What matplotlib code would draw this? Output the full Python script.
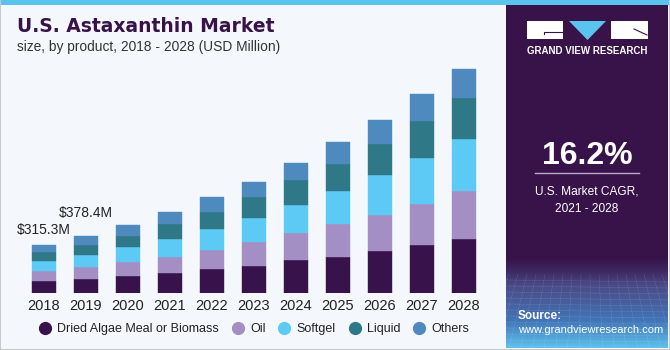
import numpy as np
import matplotlib
matplotlib.use("Agg")
from matplotlib import pyplot as plt
import matplotlib.patches as patches
from matplotlib.colors import LinearSegmentedColormap

plt.rcParams['font.family'] = ['Liberation Sans', 'DejaVu Sans']

# data (USD Million)
years = ["2018", "2019", "2020", "2021", "2022", "2023",
         "2024", "2025", "2026", "2027", "2028"]
dried_algae = [79, 92, 114, 130, 159, 176, 216, 240, 276, 317, 359]
oil = [64, 79, 92, 110, 128, 161, 180, 214, 242, 269, 315]
softgel = [68, 77, 95, 119, 139, 161, 183, 220, 260, 308, 344]
liquid = [60, 71, 75, 99, 110, 139, 165, 178, 209, 243, 273]
others = [44, 59, 73, 75, 97, 95, 116, 145, 157, 178, 190]
series_names = ["Dried Algae Meal or Biomass", "Oil", "Softgel", "Liquid", "Others"]
series_colors = ["#38124a", "#a48fc5", "#5ccaf5", "#2f7888", "#4f8abf"]
bar_labels = {0: "$315.3M", 1: "$378.4M"}
label_gap = {0: 8, 1: 16}  # px above the bar

W, H = 670, 350
DARK = "#38134a"

fig = plt.figure(figsize=(W / 100, H / 100), dpi=100)
fig.patch.set_facecolor("#c8c8c8")

# background layer in pixel coordinates
bg = fig.add_axes([0, 0, 1, 1])
bg.axis("off")
bg.add_patch(patches.Rectangle((1, 1), W - 2, H - 2, fc="#f4f8fc", ec="none"))
bg.add_patch(patches.Rectangle((1, 0), W - 2, 5, fc="#5bc4ee", ec="none"))
bg.add_patch(patches.Rectangle((506, 5), 162, H - 7, fc=DARK, ec="none"))

# gradient at the bottom of the right panel
grad = LinearSegmentedColormap.from_list(
    "g", [(0, DARK), (0.15, "#3d2a63"), (0.3, "#4a4a86"),
          (0.7, "#4275b7"), (1, "#5cc0ec")])
bg.imshow(np.linspace(0, 1, 100).reshape(-1, 1), cmap=grad, aspect="auto",
          extent=(506, 668, 348, 258), zorder=1)
for yy in np.arange(280, 348, 6):
    bg.plot([506, 668], [yy, yy + 2], color="white", lw=0.3, alpha=0.18, zorder=2)
for xx in np.arange(500, 680, 9):
    bg.plot([xx, xx + (xx - 587) * 0.3], [274, 348], color="white", lw=0.3,
            alpha=0.18, zorder=2)
bg.set_xlim(0, W)
bg.set_ylim(H, 0)

# logo
bg.add_patch(patches.Rectangle((527, 21), 36, 18, fc="white", ec="none", zorder=3))
bg.add_patch(patches.Polygon([(569, 21), (606, 21), (587.5, 40)], fc="#5bc4ee",
                             ec="none", zorder=3))
bg.add_patch(patches.Rectangle((611, 21), 37, 18, fc="white", ec="none", zorder=3))
bg.plot([544, 544, 563], [34, 31.5, 31.5], color=DARK, lw=0.8, zorder=4)
bg.plot([634, 647], [29, 35], color=DARK, lw=0.8, zorder=4)
bg.text(587.5, 51, "GRAND VIEW RESEARCH", color="white", fontsize=7,
        fontweight="bold", ha="center", va="center")

# CAGR block
bg.text(587, 156, "16.2%", color="white", fontsize=23, fontweight="bold",
        ha="center", va="center")
bg.plot([535, 639], [173, 173], color="#b8a9cc", lw=1)
bg.text(587, 192, "U.S. Market CAGR,", color="white", fontsize=8.6,
        ha="center", va="center")
bg.text(587, 209, "2021 - 2028", color="white", fontsize=8.6,
        ha="center", va="center")
bg.text(518, 316, "Source:", color="white", fontsize=8.5, fontweight="bold",
        va="center", zorder=5)
bg.text(518, 330, "www.grandviewresearch.com", color="white", fontsize=8,
        va="center", zorder=5)

# titles
bg.text(17, 26, "U.S. Astaxanthin Market", color=DARK, fontsize=13.5,
        fontweight="bold", va="center", family=['DejaVu Sans'])
bg.text(17, 47, "size, by product, 2018 - 2028 (USD Million)", color="#333333",
        fontsize=9.9, va="center")

# bar chart
L, R, B, T = 20, 488, 293, 60
ax = fig.add_axes([L / W, (H - B) / H, (R - L) / W, (B - T) / H])
ax.set_facecolor("none")
x = np.arange(len(years))
bottom = np.zeros(len(years))
series = [dried_algae, oil, softgel, liquid, others]
handles = []
for vals, name, col in zip(series, series_names, series_colors):
    ax.bar(x, vals, 0.58, bottom=bottom, color=col, edgecolor=col,
           linewidth=0.3, label=name)
    bottom = bottom + np.array(vals)
    handles.append(plt.Line2D([], [], marker="o", ls="none", ms=8.5,
                              mfc=col, mec=col, label=name))
for i, txt in bar_labels.items():
    ax.annotate(txt, (x[i], bottom[i]), xytext=(0, label_gap[i] * 0.72),
                textcoords="offset points", ha="center", va="bottom",
                fontsize=10, color="#222222")
ax.set_xlim(-0.567, 10.576)
ax.set_ylim(0, 1540)
ax.set_xticks(x)
ax.set_xticklabels(years, fontsize=10.5, color="#222222")
ax.tick_params(axis="x", length=0, pad=4)
ax.set_yticks([])
for s in ax.spines.values():
    s.set_visible(False)

fig.legend(handles=handles, loc="center", ncol=5, frameon=False,
           bbox_to_anchor=(254 / W, (H - 329) / H), fontsize=9,
           handletextpad=0.5, columnspacing=1.0, handlelength=1.0,
           labelcolor="#222222")

fig.savefig("out.png", dpi=100)
